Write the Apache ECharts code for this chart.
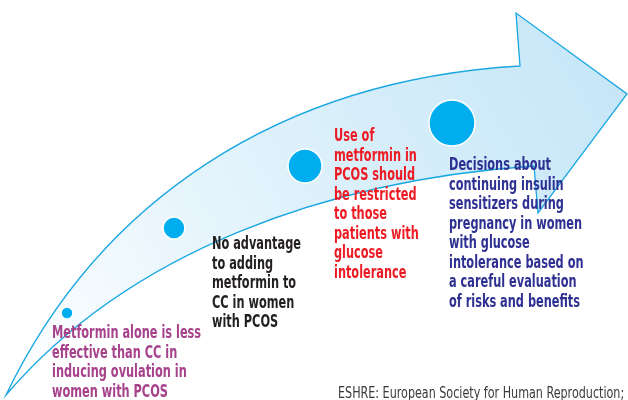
<!DOCTYPE html>
<html>
<head>
<meta charset="utf-8">
<script src="https://cdn.jsdelivr.net/npm/echarts@6/dist/echarts.min.js"></script>
<style>
  html, body { margin: 0; padding: 0; background: #fff; }
  #chart { width: 628px; height: 400px; }
</style>
</head>
<body>
<div id="chart"></div>
<script>
// milestone circles along the arrow (page coords, y down)
const stepX = [67, 174, 305, 452]
const stepY = [313, 228, 166, 123]
const stepSize = [12, 22, 34, 46]

const notes = [
  'Metformin alone is less\neffective than CC in\ninducing ovulation in\nwomen with PCOS',
  'No advantage\nto adding\nmetformin to\nCC in women\nwith PCOS',
  'Use of\nmetformin in\nPCOS should\nbe restricted\nto those\npatients with\nglucose\nintolerance',
  'Decisions about\ncontinuing insulin\nsensitizers during\npregnancy in women\nwith glucose\nintolerance based on\na careful evaluation\nof risks and benefits'
]
const noteColors = ['#a6428b', '#231f20', '#ed1c24', '#2e3192']
const notePos = [[52, 324], [212, 235], [334, 127], [449, 156]]
const footnote = 'ESHRE: European Society for Human Reproduction;'

// no condensed helvetica here, so squeeze DejaVu a bit
const FONT = "'DejaVu Sans Condensed', 'DejaVu Sans', sans-serif"

const chart = echarts.init(document.getElementById('chart'))

const arrowPath =
  'M6 395 C100 200 280 80 520 66 L516 13 L627 94 L538 213 L534 166 ' +
  'C330 180 130 250 6 395 Z'

const graphics = []

notes.forEach((t, i) => {
  graphics.push({
    type: 'text',
    z: 100,
    x: notePos[i][0],
    y: notePos[i][1],
    scaleX: 0.7,
    style: {
      text: t,
      fill: noteColors[i],
      font: 'bold 18px ' + FONT,
      lineHeight: 19.5,
      align: 'left',
      verticalAlign: 'top'
    }
  })
})

graphics.push({
  type: 'text',
  z: 100,
  x: 338,
  y: 384.5,
  scaleX: 0.775,
  style: {
    text: footnote,
    fill: '#3a3a3a',
    font: '16px ' + FONT,
    lineHeight: 18,
    align: 'left',
    verticalAlign: 'top'
  }
})

chart.setOption({
  animation: false,
  grid: { left: 0, right: 0, top: 0, bottom: 0 },
  xAxis: { type: 'value', min: 0, max: 628, show: false },
  yAxis: { type: 'value', min: 0, max: 400, inverse: true, show: false },
  graphic: graphics,
  series: [
    {
      type: 'custom',
      z: 1,
      silent: true,
      data: [[0, 0]],
      renderItem: () => ({
        type: 'path',
        shape: { pathData: arrowPath },
        style: {
          fill: {
            type: 'linear', x: 1, y: 0, x2: 0, y2: 1,
            colorStops: [
              { offset: 0, color: '#c3e5f7' },
              { offset: 0.5, color: '#ddf1fb' },
              { offset: 1, color: '#ffffff' }
            ]
          },
          stroke: '#1aa7e2',
          lineWidth: 1.3
        }
      })
    },
    {
      type: 'scatter',
      z: 5,
      data: stepX.map((x, i) => [x, stepY[i], stepSize[i]]),
      symbolSize: d => d[2],
      itemStyle: { color: '#00aeef', borderColor: '#ffffff', borderWidth: 1.5, opacity: 1 }
    }
  ]
})
</script>
</body>
</html>
